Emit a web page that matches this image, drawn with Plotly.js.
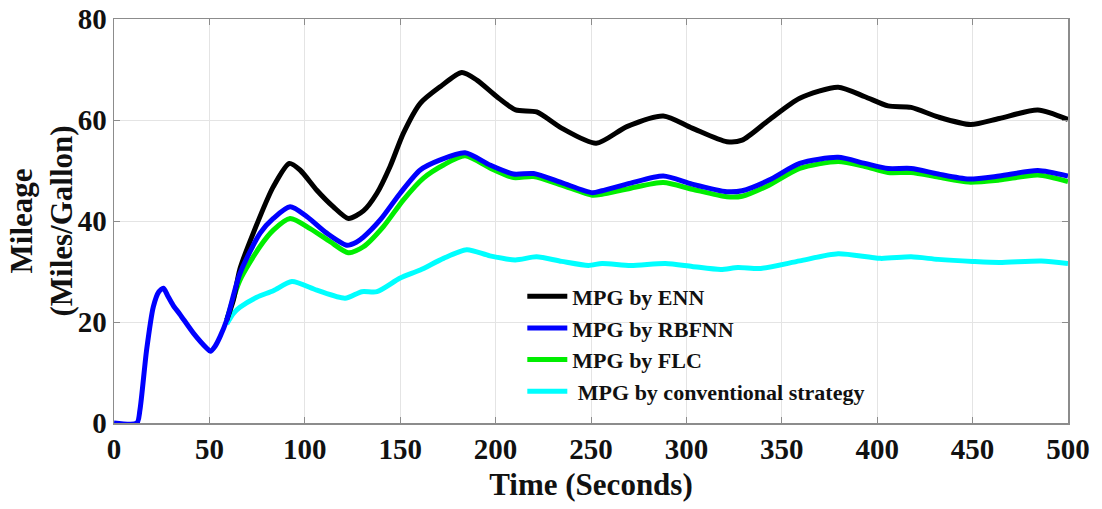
<!DOCTYPE html>
<html>
<head>
<meta charset="utf-8">
<script src="https://cdn.plot.ly/plotly-3.0.1.min.js"></script>
<style>html,body{margin:0;padding:0;background:#fff;}#chart{width:1102px;height:509px;}</style>
</head>
<body>
<div id="chart"></div>
<script>
// Shared start (drawn in blue) and each strategy's curve after t = 59 s
const tRBF = [0, 12, 13.6, 17.1, 20.6, 23.5, 25.9, 28, 31, 34.6, 41.6, 48.6, 50.5, 53, 55.6, 59.1, 66, 76.6, 83.5, 92.3, 101, 111.5, 122, 127, 130.7, 139.5, 150, 160.5, 171, 184, 197, 209.4, 219.9, 234.6, 250.7, 255.8, 270.8, 287.9, 303, 321.2, 329.2, 343.3, 359.4, 379.5, 393.6, 405.7, 417.8, 431.9, 448, 464, 484.2, 500];
const vRBF = [0, 0, 2.6, 14.5, 23, 26, 26.7, 25.3, 23.3, 21.5, 17.8, 14.8, 14.2, 15.2, 17.1, 20.4, 29.6, 37.6, 40.5, 42.8, 40.9, 37.6, 35.2, 35.8, 36.8, 40.2, 45.5, 50.1, 52.1, 53.5, 51.1, 49.3, 49.4, 47.6, 45.6, 46, 47.5, 48.9, 47.3, 45.8, 46, 48.1, 51.4, 52.6, 51.4, 50.4, 50.4, 49.3, 48.3, 48.9, 50, 48.9];

const tENN = [59.1, 62.6, 66, 73, 83.5, 91.9, 97.5, 106.3, 115, 122.9, 130.7, 137.8, 144.7, 151.7, 160.5, 171, 182.3, 190.2, 200.7, 210.5, 221.5, 234.6, 252.7, 268.8, 287.9, 303, 321.2, 329.2, 343.3, 359.4, 379.5, 393.6, 405.7, 417.8, 431.9, 449, 464, 484.2, 500];
const vENN = [20.4, 24.4, 30.5, 37.6, 46.8, 51.4, 50.1, 46.1, 42.8, 40.5, 42, 45.5, 50.8, 57.4, 63.3, 66.6, 69.4, 67.9, 64.6, 62, 61.6, 58.4, 55.4, 58.7, 60.8, 58.4, 55.7, 56, 60, 64.3, 66.5, 64.6, 62.8, 62.5, 60.6, 59.1, 60.3, 62, 60.1];

const tFLC = [59.1, 66, 76.6, 83.5, 92.3, 102.8, 113.3, 122.9, 130.7, 141.2, 151.7, 162.2, 172.7, 184, 197, 209.4, 219.9, 234.6, 250.7, 255.8, 270.8, 287.9, 303, 321.2, 329.2, 343.3, 359.4, 379.5, 393.6, 405.7, 417.8, 431.9, 448, 464, 484.2, 500];
const vFLC = [20.4, 28.3, 35, 38.2, 40.5, 38.5, 35.9, 33.7, 34.9, 38.9, 44.2, 48.5, 51.1, 52.9, 50.5, 48.6, 48.8, 47.1, 45.1, 45.3, 46.5, 47.6, 46.3, 44.8, 44.9, 47.1, 50.4, 51.8, 50.8, 49.6, 49.6, 48.7, 47.7, 48.1, 49.1, 47.8];

const tCONV = [59.1, 62.6, 66, 74.8, 83.5, 93.2, 106.3, 121.1, 129.9, 137.8, 150, 160.5, 172.7, 184.9, 197, 210.3, 221.5, 234.6, 248.7, 255.8, 270.8, 289, 303, 318, 327, 339, 359.4, 379.5, 401.6, 417.8, 431.9, 450, 464, 486, 500];
const vCONV = [19.6, 21.7, 22.9, 24.9, 26.2, 28, 26.3, 24.7, 26, 26, 28.7, 30.3, 32.6, 34.3, 33.1, 32.3, 32.9, 32, 31.2, 31.6, 31.2, 31.6, 31, 30.4, 30.8, 30.6, 32.1, 33.5, 32.6, 32.9, 32.4, 32, 31.8, 32.1, 31.6];

const seriesNames = ['MPG by ENN', 'MPG by RBFNN', 'MPG by FLC', ' MPG by conventional strategy'];
const xTicks = [0, 50, 100, 150, 200, 250, 300, 350, 400, 450, 500];
const yTicks = [0, 20, 40, 60, 80];
const yTitle = 'Mileage<br>(Miles/Gallon)';

const serif = 'Liberation Serif, Times New Roman, serif';
const lineStyle = (c) => ({color: c, width: 5, shape: 'spline', smoothing: 0.7});

const traces = [
  {x: tENN, y: vENN, name: seriesNames[0], mode: 'lines', line: lineStyle('#000000')},
  {x: tRBF, y: vRBF, name: seriesNames[1], mode: 'lines', line: lineStyle('#0000ff')},
  {x: tFLC, y: vFLC, name: seriesNames[2], mode: 'lines', line: lineStyle('#00ee00')},
  {x: tCONV, y: vCONV, name: seriesNames[3], mode: 'lines', line: lineStyle('#00ffff')}
];
// draw order: cyan, green, black, blue on top (blue covers shared start)
const drawOrder = [traces[3], traces[2], traces[0], traces[1]];
drawOrder.forEach((t, i) => { t.legendrank = [4, 3, 1, 2][i]; });

const layout = {
  width: 1102, height: 509,
  margin: {l: 114, r: 34, t: 19, b: 86},
  paper_bgcolor: '#ffffff', plot_bgcolor: '#ffffff',
  showlegend: true,
  legend: {
    x: 0.428, y: 0.365, xanchor: 'left', yanchor: 'top',
    bgcolor: 'rgba(0,0,0,0)', borderwidth: 0,
    font: {family: serif, size: 22, color: '#111', weight: 'bold'},
    traceorder: 'normal', itemwidth: 40
  },
  xaxis: {
    range: [0, 500], tickvals: xTicks, ticktext: xTicks.map(String),
    showgrid: true, gridcolor: '#e4e4e4', gridwidth: 1,
    showline: true, linecolor: '#8c8c8c', linewidth: 1.5, mirror: 'ticks',
    ticks: 'inside', ticklen: 6, tickcolor: '#8c8c8c',
    zeroline: false,
    tickfont: {family: serif, size: 29, color: '#111', weight: 'bold'},
    title: {text: 'Time (Seconds)', font: {family: serif, size: 31, color: '#111', weight: 'bold'}, standoff: 9},
    automargin: false
  },
  yaxis: {
    range: [0, 80], tickvals: yTicks, ticktext: yTicks.map(String),
    showgrid: true, gridcolor: '#e4e4e4', gridwidth: 1,
    showline: true, linecolor: '#8c8c8c', linewidth: 1.5, mirror: 'ticks',
    ticks: 'inside', ticklen: 6, tickcolor: '#8c8c8c',
    zeroline: false,
    tickfont: {family: serif, size: 29, color: '#111', weight: 'bold'},
    automargin: false
  },
  annotations: [{
    text: yTitle, textangle: -90, showarrow: false,
    xref: 'paper', yref: 'paper', x: -0.077, y: 0.5,
    xanchor: 'center', yanchor: 'middle',
    font: {family: serif, size: 31, color: '#111', weight: 'bold'}
  }]
};

Plotly.newPlot('chart', drawOrder, layout, {displayModeBar: false, staticPlot: true});
</script>
</body>
</html>
